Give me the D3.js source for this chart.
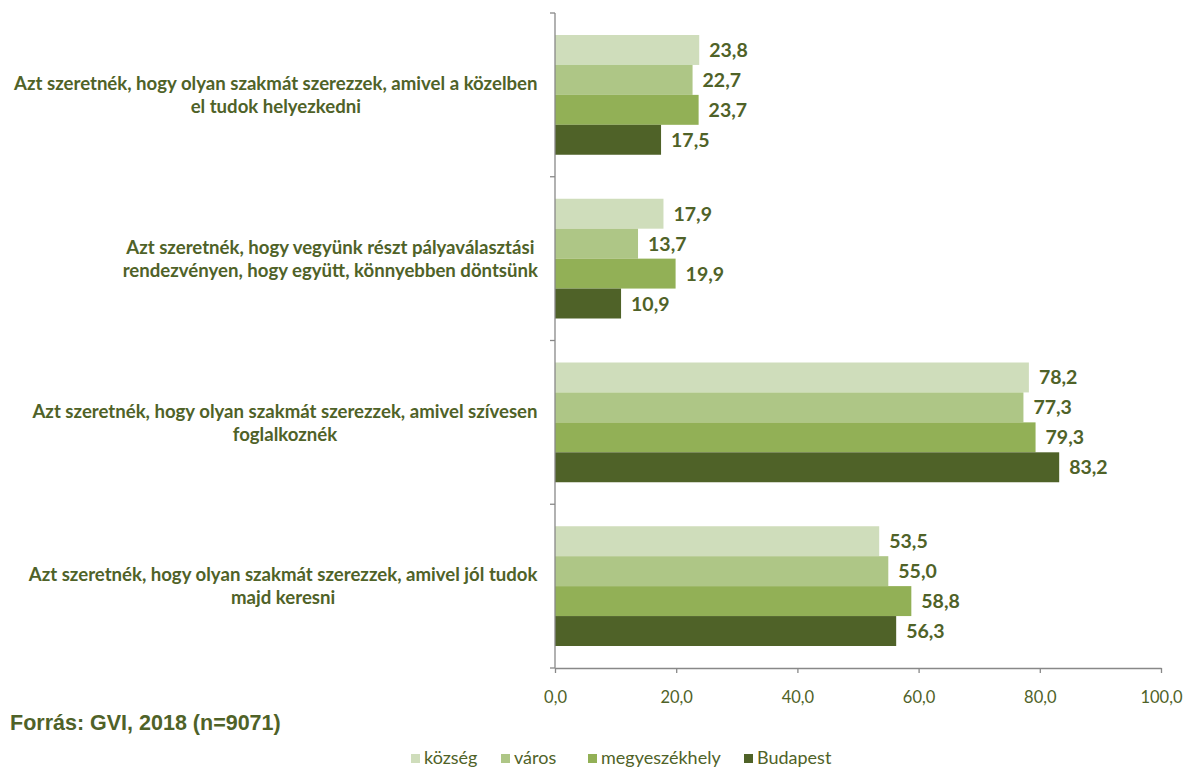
<!DOCTYPE html>
<html><head><meta charset="utf-8">
<script src="https://cdn.jsdelivr.net/npm/d3@7"></script>
<style>body{margin:0;background:#fff}svg{display:block}</style>
</head><body><svg id="c" width="1191" height="769"></svg>
<script>
const categories = [
  ["Azt szeretnék, hogy olyan szakmát szerezzek, amivel a közelben", "el tudok helyezkedni"],
  ["Azt szeretnék, hogy vegyünk részt pályaválasztási", "rendezvényen, hogy együtt, könnyebben döntsünk"],
  ["Azt szeretnék, hogy olyan szakmát szerezzek, amivel szívesen", "foglalkoznék"],
  ["Azt szeretnék, hogy olyan szakmát szerezzek, amivel jól tudok", "majd keresni"]
];
const seriesNames = ["község", "város", "megyeszékhely", "Budapest"];
const kozseg = [23.8, 17.9, 78.2, 53.5];
const varos = [22.7, 13.7, 77.3, 55.0];
const megyeszekhely = [23.7, 19.9, 79.3, 58.8];
const budapest = [17.5, 10.9, 83.2, 56.3];
const tickValues = [0, 20, 40, 60, 80, 100];
const colors = ["#CFDDBB", "#AEC686", "#92B056", "#4F6228"];
const seriesValues = [kozseg, varos, megyeszekhely, budapest];
const textColor = "#4F6228";
const fmt = v => d3.format(".1f")(v).replace(".", ",");
const FONT = "Lato, 'Open Sans', sans-serif";

const svg = d3.select("#c");
const pL = 555, pR = 1161, pT = 13, pB = 668;
const x = d3.scaleLinear().domain([0, 100]).range([pL, pR]);
const y = d3.scaleBand().domain(d3.range(categories.length)).range([pT, pB]);
const innerY = d3.scaleBand().domain(d3.range(4)).range([22, y.bandwidth() - 22]);

const g = svg.append("g");
categories.forEach((cat, i) => {
  seriesValues.forEach((vals, s) => {
    const by = y(i) + innerY(s);
    g.append("rect").attr("x", x(0)).attr("y", by).attr("width", x(vals[i]) - x(0))
      .attr("height", innerY.bandwidth()).attr("fill", colors[s]);
    g.append("text").attr("x", x(vals[i]) + 10).attr("y", by + innerY.bandwidth() / 2)
      .attr("dy", "0.36em").attr("fill", textColor)
      .attr("font-family", FONT).attr("font-weight", "bold")
      .attr("font-size", "19.5px").text(fmt(vals[i]));
  });
});

// left axis
svg.append("line").attr("x1", pL).attr("x2", pL).attr("y1", pT).attr("y2", pB)
  .attr("stroke", "#888").attr("stroke-width", 1.3);
d3.range(categories.length + 1).forEach(k => {
  const yy = k < categories.length ? y(k) : pB;
  svg.append("line").attr("x1", pL - 5).attr("x2", pL).attr("y1", yy).attr("y2", yy)
    .attr("stroke", "#888").attr("stroke-width", 1.3);
});

// bottom axis
const ax = svg.append("g").attr("transform", `translate(0,${pB})`)
  .call(d3.axisBottom(x).tickValues(tickValues).tickSize(5).tickSizeOuter(0).tickFormat(fmt));
ax.select(".domain").attr("stroke", "#888").attr("stroke-width", 1.3);
ax.selectAll(".tick line").attr("stroke", "#888").attr("stroke-width", 1.3);
ax.selectAll(".tick text").attr("fill", textColor).attr("font-family", FONT)
  .attr("font-size", "16.5px").attr("y", 8).attr("dy", "26.5px");

// category labels
categories.forEach((lines, i) => {
  const cy = y(i) + y.bandwidth() / 2;
  const t = svg.append("text").attr("fill", textColor)
    .attr("font-family", FONT).attr("font-weight", "bold")
    .attr("font-size", "18.6px").attr("text-anchor", "middle");
  const lh = 23;
  lines.forEach((ln, j) => {
    t.append("tspan").attr("x", 0).attr("y", cy + (j - (lines.length - 1) / 2) * lh).attr("dy", "0.36em").text(ln);
  });
  const w = t.node().getBBox().width;
  t.selectAll("tspan").attr("x", 538 - w / 2);
});

// source
svg.append("text").attr("x", 10).attr("y", 730).attr("fill", textColor)
  .attr("font-family", "'Liberation Sans Narrow', 'Arial Narrow', sans-serif").attr("font-weight", "bold")
  .attr("font-size", "21.5px").text("Forrás: GVI, 2018 (n=9071)");

// legend
const legendX = [411, 501, 588, 744];
seriesNames.forEach((n, s) => {
  const lg = svg.append("g").attr("transform", `translate(${legendX[s]},764)`);
  lg.append("rect").attr("x", 0).attr("y", -10).attr("width", 9).attr("height", 9).attr("fill", colors[s]);
  lg.append("text").attr("x", 13).attr("y", 0).attr("fill", textColor)
    .attr("font-family", FONT).attr("font-size", "18px").text(n);
});
</script></body></html>
